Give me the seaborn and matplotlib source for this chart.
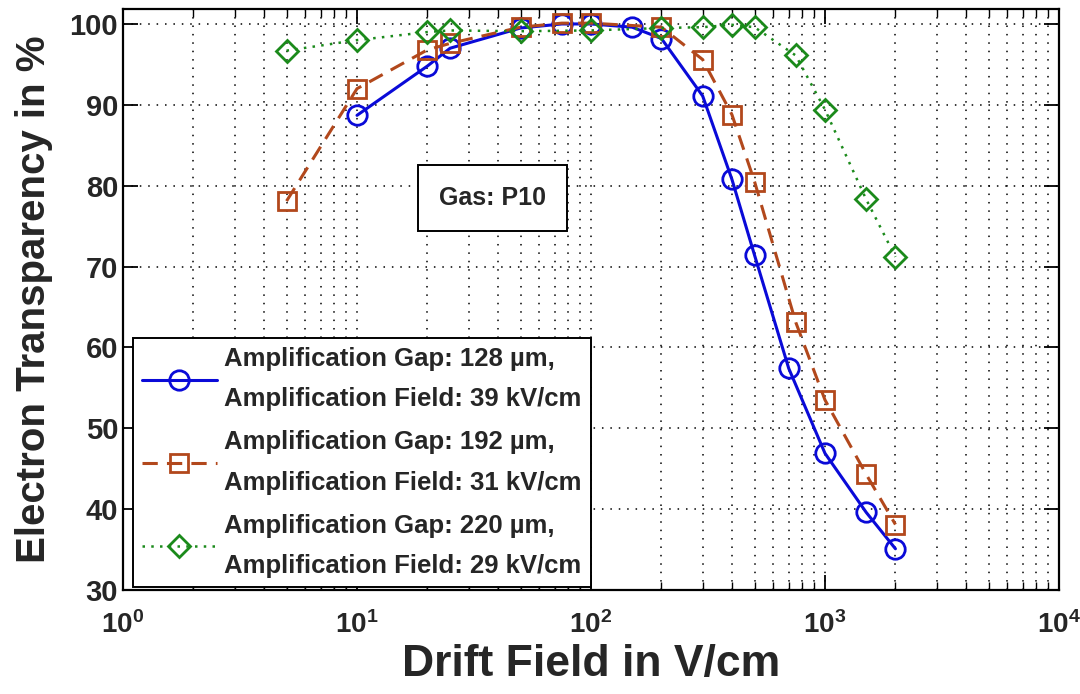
import matplotlib
matplotlib.use("Agg")
import matplotlib.pyplot as plt
import seaborn as sns
import numpy as np
from matplotlib.ticker import LogLocator, NullFormatter, FuncFormatter

sns.set_theme(style="white")
plt.rcParams['font.family'] = ['Liberation Sans', 'DejaVu Sans']
plt.rcParams['font.weight'] = 'bold'
plt.rcParams['mathtext.fontset'] = 'custom'
plt.rcParams['mathtext.rm'] = 'Liberation Sans:bold'
plt.rcParams['mathtext.bf'] = 'Liberation Sans:bold'
plt.rcParams['mathtext.default'] = 'bf'

# Data
field_128 = [10, 20, 25, 50, 75, 100, 150, 200, 300, 400, 500, 700, 1000, 1500, 2000]
trans_128 = [88.7, 94.8, 97.0, 99.5, 100.0, 100.0, 99.6, 98.2, 91.1, 80.8, 71.4, 57.4, 46.9, 39.6, 35.1]

field_192 = [5, 10, 20, 25, 50, 75, 100, 200, 300, 400, 500, 750, 1000, 1500, 2000]
trans_192 = [78.1, 92.0, 96.8, 97.6, 99.6, 100.1, 100.1, 99.6, 95.6, 88.8, 80.5, 63.1, 53.5, 44.3, 38.1]

field_220 = [5, 10, 20, 25, 50, 100, 200, 300, 400, 500, 750, 1000, 1500, 2000]
trans_220 = [96.7, 98.0, 99.0, 99.2, 99.1, 99.2, 99.5, 99.6, 99.9, 99.6, 96.1, 89.4, 78.3, 71.2]

labels = ["Amplification Gap: 128 \u00b5m,\nAmplification Field: 39 kV/cm",
          "Amplification Gap: 192 \u00b5m,\nAmplification Field: 31 kV/cm",
          "Amplification Gap: 220 \u00b5m,\nAmplification Field: 29 kV/cm"]

fig = plt.figure(figsize=(10.8, 6.94), dpi=100)
ax = fig.add_axes([123 / 1080, 1 - 590 / 694, (1059 - 123) / 1080, (590 - 9) / 694])

styles = [
    (field_128, trans_128, '#0a0ad8', 'o', '-', 2.2, 14),
    (field_192, trans_192, '#b2481c', 's', (0, (5, 3)), 2.2, 12.5),
    (field_220, trans_220, '#1b8a1b', 'D', (0, (1, 2.5)), 1.8, 11.5),
]
for (x, y, c, m, ls, lw, ms), lab in zip(styles, labels):
    sns.lineplot(x=x, y=y, ax=ax, color=c, marker=m, linestyle=ls, linewidth=lw,
                 markersize=ms, markerfacecolor='none', markeredgecolor=c,
                 markeredgewidth=2.0, label=lab)

ax.set_xscale('log')
ax.set_xlim(1, 1e4)
ax.set_ylim(30, 101.85)
ax.set_yticks(range(30, 101, 10))
ax.xaxis.set_major_locator(LogLocator(base=10, numticks=10))
ax.xaxis.set_major_formatter(FuncFormatter(lambda v, p: r'$10^{%d}$' % round(np.log10(v))))
ax.xaxis.set_minor_locator(LogLocator(base=10, subs=np.arange(2, 10), numticks=20))
ax.xaxis.set_minor_formatter(NullFormatter())

ax.grid(True, which='major', axis='both', color='black', linestyle=(0, (1, 4.5)), linewidth=1.1)
ax.grid(True, which='minor', axis='x', color='black', linestyle=(0, (1, 4.5)), linewidth=1.1)

ax.tick_params(which='both', direction='in', top=True, right=True, bottom=True, left=True,
               color='black')
ax.tick_params(which='major', length=11, width=1.3, labelsize=21)
ax.tick_params(axis='x', which='major', pad=15, labelsize=20)
ax.tick_params(which='minor', length=6, width=1.0)
for s in ax.spines.values():
    s.set_color('black')
    s.set_linewidth(1.6)

ax.set_xlabel('Drift Field in V/cm', fontsize=32, fontweight='bold', labelpad=4)
ax.set_ylabel('Electron Transparency in %', fontsize=29, fontweight='bold', labelpad=12)

ax.text(38, 78.5, 'Gas: P10', fontsize=18, fontweight='bold', ha='center', va='center',
        bbox=dict(boxstyle='square,pad=0.85', facecolor='white', edgecolor='black', linewidth=1.4))

leg = ax.legend(loc='lower left', bbox_to_anchor=(10 / 936, 3 / 581), borderaxespad=0,
                fontsize=18.5, frameon=True, fancybox=False,
                handlelength=2.9, handletextpad=0.3, labelspacing=0.75, borderpad=0.35)
leg.get_frame().set_edgecolor('black')
leg.get_frame().set_linewidth(1.4)
leg.get_frame().set_alpha(1)
for t in leg.get_texts():
    t.set_fontweight('bold')
    t.set_linespacing(1.85)

fig.savefig('out.png', dpi=100)
